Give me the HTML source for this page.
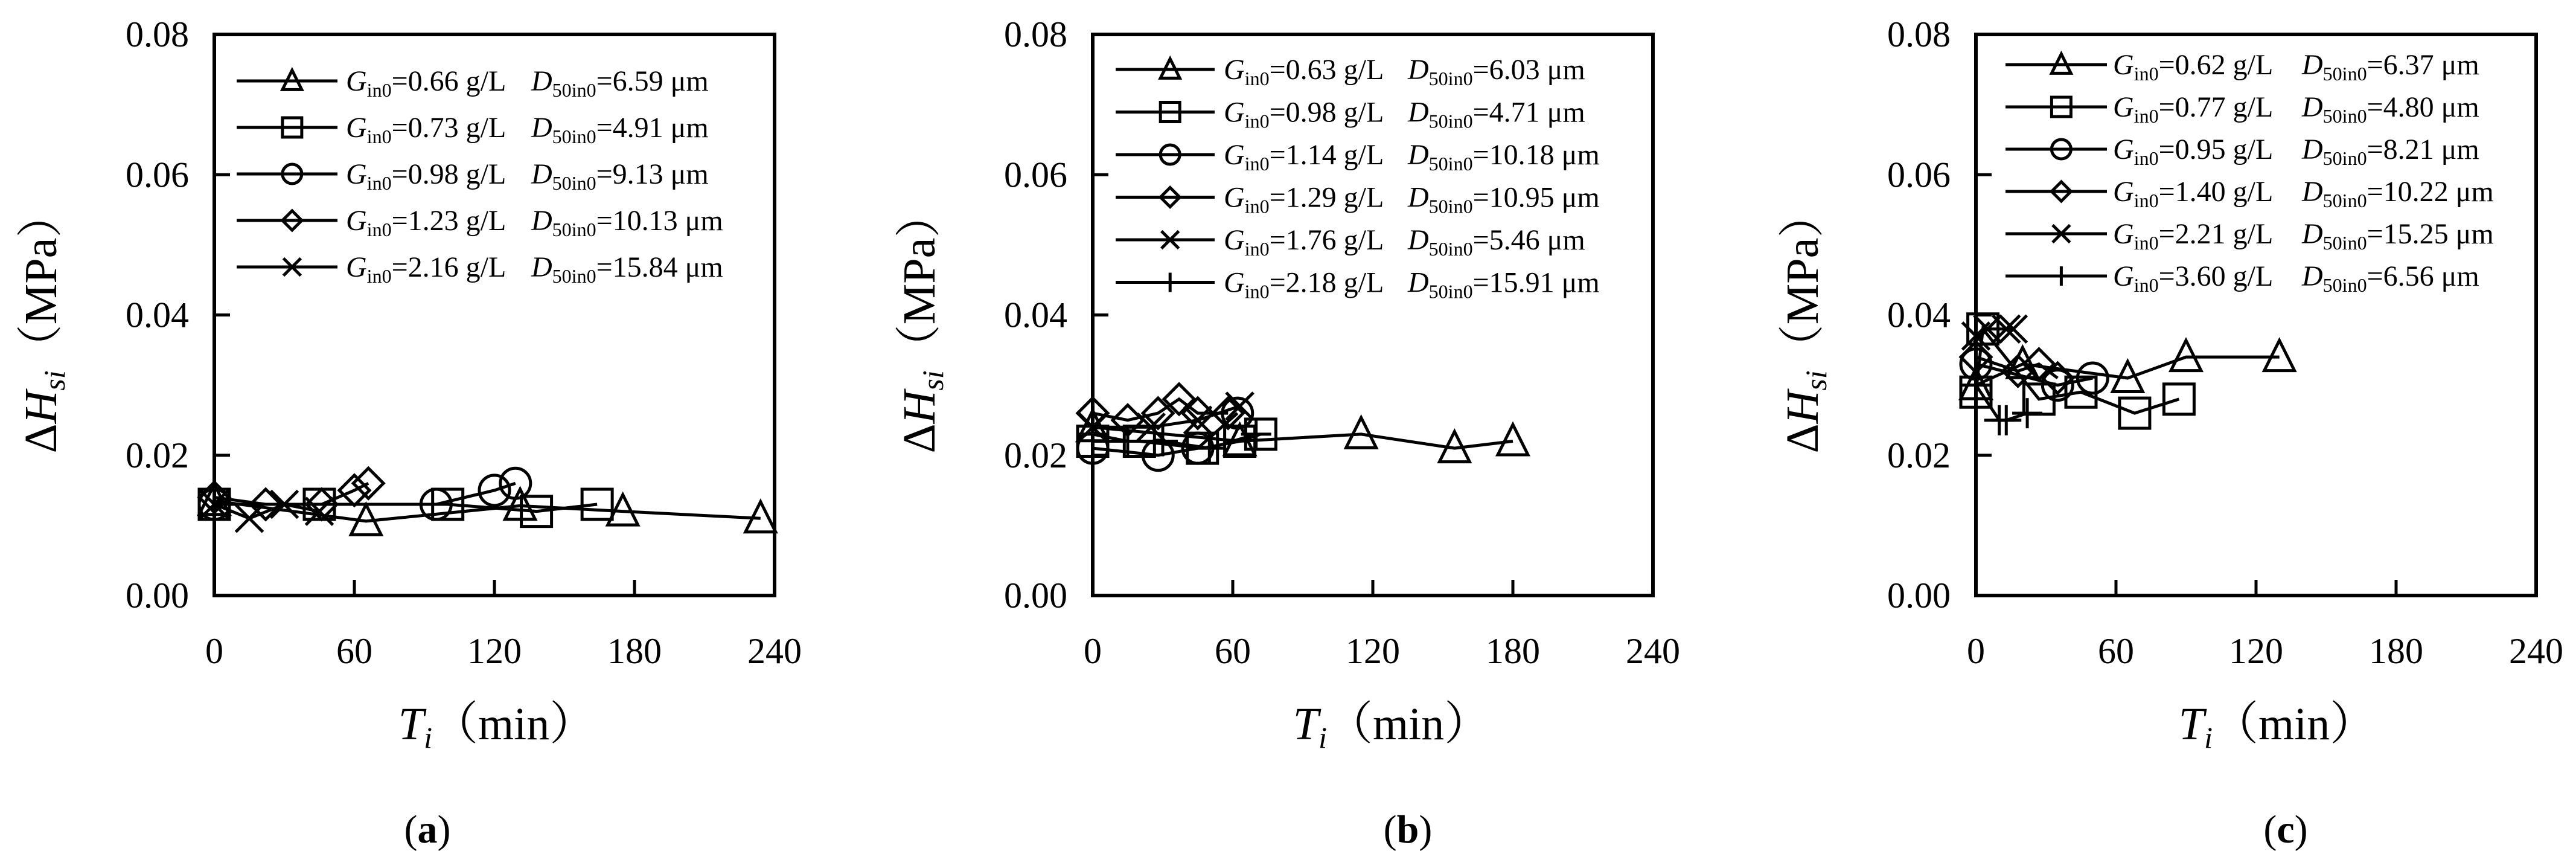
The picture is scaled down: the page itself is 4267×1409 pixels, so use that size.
<!DOCTYPE html>
<html><head><meta charset="utf-8"><style>
body{margin:0;background:#fff;}
svg{display:block;font-family:"Liberation Serif","Noto Serif CJK SC",serif;}
</style></head><body>
<svg id="fig" width="4267" height="1409" viewBox="0 0 4267 1409" xmlns="http://www.w3.org/2000/svg"></svg>
<script>
const xTicks=[0,60,120,180,240];
const yTicks=[0,0.02,0.04,0.06,0.08];
const yTickLabels=["0.00","0.02","0.04","0.06","0.08"];
// Panel a
const aLegendG=["0.66","0.73","0.98","1.23","2.16"];
const aLegendD=["6.59","4.91","9.13","10.13","15.84"];
const aMarkers=["tri","sq","circ","dia","x"];
const aX=[[0,65,131,175,234],[0,45,100,138,164],[0,95,120,129],[0,22,46,60,66],[0,15,30,45]];
const aY=[[0.0135,0.0106,0.0128,0.012,0.011],[0.013,0.013,0.013,0.012,0.013],[0.013,0.013,0.015,0.016],[0.014,0.013,0.013,0.015,0.016],[0.013,0.011,0.013,0.012]];
// Panel b
const bLegendG=["0.63","0.98","1.14","1.29","1.76","2.18"];
const bLegendD=["6.03","4.71","10.18","10.95","5.46","15.91"];
const bMarkers=["tri","sq","circ","dia","x","plus"];
const bX=[[0,63,115,155,180],[0,20,47,63,72],[0,28,45,62],[0,15,28,37,45,58],[0,25,45,63],[0,15,30,50,70]];
const bY=[[0.024,0.022,0.023,0.021,0.022],[0.022,0.022,0.021,0.022,0.023],[0.021,0.020,0.021,0.026],[0.026,0.025,0.026,0.028,0.026,0.026],[0.024,0.024,0.025,0.027],[0.023,0.022,0.022,0.021,0.023]];
// Panel c
const cLegendG=["0.62","0.77","0.95","1.40","2.21","3.60"];
const cLegendD=["6.37","4.80","8.21","10.22","15.25","6.56"];
const cMarkers=["tri","sq","circ","dia","x","plus"];
const cX=[[0,20,65,90,130],[0,3,27,45,68,87],[0,35,50],[0,18,27,35],[0,5,13,16],[0,10,13,22]];
const cY=[[0.030,0.033,0.031,0.034,0.034],[0.029,0.038,0.028,0.029,0.026,0.028],[0.033,0.030,0.031],[0.034,0.032,0.033,0.031],[0.037,0.038,0.038,0.038],[0.030,0.025,0.025,0.026]];

const NS="http://www.w3.org/2000/svg";
const svg=document.getElementById('fig');
function mk(tag,attrs,parent){const e=document.createElementNS(NS,tag);for(const k in attrs)e.setAttribute(k,attrs[k]);(parent||svg).appendChild(e);return e;}

function marker(g,type,cx,cy,s){
  const st={fill:"none",stroke:"#000","stroke-width":5};
  let e;
  if(type==="tri"){e=mk('polygon',Object.assign({points:`${cx},${cy-s*0.55} ${cx-s/2},${cy+s*0.45} ${cx+s/2},${cy+s*0.45}`},st),g);}
  else if(type==="sq"){e=mk('rect',Object.assign({x:cx-s/2,y:cy-s/2,width:s,height:s},st),g);}
  else if(type==="circ"){e=mk('circle',Object.assign({cx:cx,cy:cy,r:s/2},st),g);}
  else if(type==="dia"){e=mk('polygon',Object.assign({points:`${cx},${cy-s/2} ${cx+s/2},${cy} ${cx},${cy+s/2} ${cx-s/2},${cy}`},st),g);}
  else if(type==="x"){const h=s*0.45;e=mk('path',Object.assign({d:`M${cx-h},${cy-h}L${cx+h},${cy+h}M${cx-h},${cy+h}L${cx+h},${cy-h}`},st),g);}
  else {const h=s*0.5;e=mk('path',Object.assign({d:`M${cx-h},${cy}L${cx+h},${cy}M${cx},${cy-h}L${cx},${cy+h}`},st),g);}
  return e;
}

function panel(id,left,top,W,H,legG,legD,markers,xs,ys,leg,letter,letterX,titleX){
  const g=mk('g',{});
  
  
  const sx=v=>left+v/240*W, sy=v=>top+H-v/0.08*H;
  xs.forEach((arr,i)=>{
    const sg=mk('g',{},g);
    
    
    const pts=arr.map((x,j)=>sx(x)+','+sy(ys[i][j])).join(' ');
    mk('polyline',{points:pts,fill:"none",stroke:"#000","stroke-width":5},sg);
    arr.forEach((x,j)=>{const m=marker(sg,markers[i],sx(x),sy(ys[i][j]),50);
      
      });
  });
  const fr=mk('rect',{x:left,y:top,width:W,height:H,fill:"none",stroke:"#000","stroke-width":6},g);
  
  
  yTicks.forEach((v,i)=>{
    if(i>0&&i<yTicks.length-1) mk('line',{x1:left,x2:left+26,y1:sy(v),y2:sy(v),stroke:"#000","stroke-width":5},g);
    const t=mk('text',{x:left-42,y:sy(v)+20,"text-anchor":"end","font-size":60},g);
    t.textContent=yTickLabels[i];
    
    
  });
  xTicks.forEach((v,i)=>{
    if(i>0&&i<xTicks.length-1) mk('line',{x1:sx(v),x2:sx(v),y1:top+H,y2:top+H-26,stroke:"#000","stroke-width":5},g);
    const t=mk('text',{x:sx(v),y:top+H+112,"text-anchor":"middle","font-size":60},g);
    t.textContent=xTicks[i];
    
    
  });
  const yt=mk('text',{transform:`translate(${left-262},${top+477}) rotate(-90)`,"text-anchor":"middle","font-size":76},g);
  yt.innerHTML='<tspan>Δ</tspan><tspan font-style="italic">H</tspan><tspan font-style="italic" font-size="50" dy="14">si</tspan><tspan dy="-14">（MPa）</tspan>';
  
  
  const xt=mk('text',{x:titleX,y:top+H+238,"text-anchor":"middle","font-size":76},g);
  xt.innerHTML='<tspan font-style="italic">T</tspan><tspan font-style="italic" font-size="50" dy="14">i</tspan><tspan dy="-14">（min）</tspan>';
  
  
  const lt=mk('text',{x:letterX,y:1395,"text-anchor":"middle","font-size":66},g);
  lt.innerHTML='(<tspan font-weight="bold">'+letter+'</tspan>)';
  
  
  legG.forEach((gv,i)=>{
    const y=leg.y0+i*leg.dy;
    const lg=mk('g',{},g);
    
    
    mk('line',{x1:leg.x1,x2:leg.x2,y1:y,y2:y,stroke:"#000","stroke-width":5},lg);
    marker(lg,markers[i],(leg.x1+leg.x2)/2+(leg.x2-leg.x1)*0.05,y,32);
    const t=mk('text',{x:leg.tx,y:y+16,"font-size":48},lg);
    t.innerHTML=`<tspan font-style="italic">G</tspan><tspan font-size="32" dy="10">in0</tspan><tspan dy="-10">=${gv} g/L</tspan>`;
    const t2=mk('text',{x:leg.dx,y:y+16,"font-size":48},lg);
    t2.innerHTML=`<tspan font-style="italic">D</tspan><tspan font-size="32" dy="10">50in0</tspan><tspan dy="-10">=${legD[i]} μm</tspan>`;
  });
}
panel('a',355,57,928,929,aLegendG,aLegendD,aMarkers,aX,aY,{y0:134,dy:77,x1:392,x2:559,tx:573,dx:880},'a',708,823);
panel('b',1810,57,928,929,bLegendG,bLegendD,bMarkers,bX,bY,{y0:115,dy:70.5,x1:1848,x2:2012,tx:2027,dx:2332},'b',2332,2305);
panel('c',3273,57,928,929,cLegendG,cLegendD,cMarkers,cX,cY,{y0:107,dy:70,x1:3322,x2:3490,tx:3500,dx:3813},'c',3786,3772);
</script>
</body></html>
